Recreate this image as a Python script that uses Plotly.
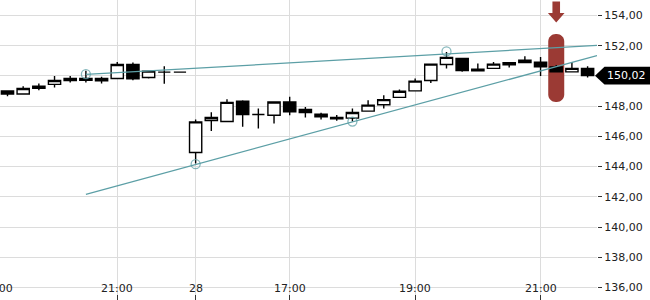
import plotly.graph_objects as go

# ---------------- data ----------------
idx = list(range(38))
opens  = [149.00,148.81,149.32,149.44,149.70,149.83,149.68,149.83,150.76,149.90,
          150.25,150.25,144.93,147.05,146.99,148.33,147.45,147.40,148.28,147.78,
          147.47,147.25,147.21,147.67,148.09,148.58,149.01,149.70,150.76,151.16,
          150.45,150.50,150.87,150.89,150.91,150.60,150.27,150.50]
highs  = [149.06,149.32,149.50,149.99,149.99,150.34,149.94,150.93,150.89,150.32,
          150.65,150.25,147.12,147.60,148.46,148.40,147.85,148.28,148.62,147.95,
          147.56,147.42,147.85,148.40,148.73,149.11,149.83,150.83,151.58,151.16,
          150.83,150.93,150.93,151.31,151.26,150.72,150.93,150.65]
lows   = [148.66,148.81,149.06,149.24,149.57,149.57,149.50,149.83,149.72,149.83,
          149.48,150.25,144.20,146.36,146.99,146.63,146.52,146.85,147.40,147.25,
          147.12,147.03,146.98,147.67,147.85,148.58,149.01,149.54,150.50,150.27,
          150.34,150.50,150.56,150.89,149.99,150.27,150.27,149.90]
closes = [148.81,149.17,149.19,149.70,149.83,149.72,149.83,150.76,149.81,150.32,
          150.25,150.25,146.96,147.25,148.25,147.45,147.45,148.28,147.62,147.58,
          147.29,147.16,147.58,148.07,148.43,148.99,149.66,150.78,151.23,150.36,
          150.34,150.78,150.74,151.05,150.60,150.27,150.50,150.02]

tick_idx = [7, 12, 18, 26, 34]
tick_text = ["21:00", "28", "17:00", "19:00", "21:00"]
prev_tick_idx = -0.65
prev_tick_text = "19:00"

y_ticks = [136, 138, 140, 142, 144, 146, 148, 150, 152, 154]

upper_x = [5, 37.6]
upper_y = [150.10, 152.02]
lower_x = [5, 37.6]
lower_y = [142.17, 151.35]
pivot_x = [5, 12, 22, 28]
pivot_y = [150.12, 144.16, 146.98, 151.62]

signal_idx = 35
signal_top = 152.78
signal_bot = 148.28

# ---------------- layout geometry ----------------
W, H = 650, 300
MR = 53
PW, PH = W - MR, H
xmin, xmax = -0.478, 37.6
ymin, ymax = 135.173, 155.026
sx = PW / (xmax - xmin)
sy = PH / (ymax - ymin)

def X(i):  # index -> px
    return (i - xmin) * sx
def Y(p):  # price -> px
    return (ymax - p) * sy
def I(px):
    return xmin + px / sx
def P(py):
    return ymax - py / sy

def path_from_px(cmds):
    out = []
    for c in cmds:
        if c[0] == 'Z':
            out.append('Z')
            continue
        letter, pts = c[0], c[1:]
        out.append(letter + ' ' + ' '.join(f"{I(px):.5f},{P(py):.5f}" for px, py in pts))
    return ' '.join(out)

red = "#9b3a34"
k = 0.5523

# rounded signal bar
cx = X(signal_idx)
L, R = cx - 8, cx + 8
T, B = Y(signal_top), Y(signal_bot)
r = 7.5
bar_path = path_from_px([
    ('M', (L + r, T)), ('L', (R - r, T)),
    ('C', (R - r + k * r, T), (R, T + r - k * r), (R, T + r)),
    ('L', (R, B - r)),
    ('C', (R, B - r + k * r), (R - r + k * r, B), (R - r, B)),
    ('L', (L + r, B)),
    ('C', (L + r - k * r, B), (L, B - r + k * r), (L, B - r)),
    ('L', (L, T + r)),
    ('C', (L, T + r - k * r), (L + r - k * r, T), (L + r, T)),
    ('Z',)])

# arrow above
arrow_path = path_from_px([
    ('M', (cx - 3.8, 1.5)), ('L', (cx + 3.8, 1.5)), ('L', (cx + 3.8, 13)),
    ('L', (cx + 8.3, 13)), ('L', (cx, 22.5)), ('L', (cx - 8.3, 13)),
    ('L', (cx - 3.8, 13)), ('Z',)])

# last price tag (x in paper, y in data)
last = closes[-1]
yc = Y(last)
def PX(px):
    return px / PW
tag_pts = [(595, yc), (604.5, yc - 8.8), (650, yc - 8.8), (650, yc + 8.8), (604.5, yc + 8.8)]
tag_path = "M " + " L ".join(f"{PX(a):.5f},{P(b):.5f}" for a, b in tag_pts) + " Z"

fig = go.Figure()

fig.add_trace(go.Candlestick(
    x=idx, open=opens, high=highs, low=lows, close=closes,
    increasing=dict(line=dict(color="black", width=1.4), fillcolor="white"),
    decreasing=dict(line=dict(color="black", width=1.4), fillcolor="black"),
    whiskerwidth=0, showlegend=False, hoverinfo="skip"))

teal = "#5c9fa6"
fig.add_trace(go.Scatter(x=upper_x, y=upper_y, mode="lines",
                         line=dict(color=teal, width=1.3), showlegend=False, hoverinfo="skip"))
fig.add_trace(go.Scatter(x=lower_x, y=lower_y, mode="lines",
                         line=dict(color=teal, width=1.3), showlegend=False, hoverinfo="skip"))
fig.add_trace(go.Scatter(x=pivot_x, y=pivot_y, mode="markers",
                         marker=dict(symbol="circle-open", size=9, color="rgba(92,159,166,0.75)",
                                     line=dict(width=1.3)),
                         showlegend=False, hoverinfo="skip"))

fig.add_shape(type="path", path=bar_path, xref="x", yref="y",
              fillcolor=red, line=dict(width=0), layer="between")
fig.add_shape(type="path", path=arrow_path, xref="x", yref="y",
              fillcolor=red, line=dict(width=0), layer="above")
fig.add_shape(type="path", path=tag_path, xref="paper", yref="y",
              fillcolor="black", line=dict(width=0), layer="above")

fig.add_annotation(x=PX(626.5), y=last, xref="paper", yref="y",
                   text=f"{last:.2f}".replace(".", ","), showarrow=False,
                   font=dict(family="DejaVu Sans", size=11, color="white"),
                   xanchor="center", yanchor="middle")

# x tick labels (drawn inside the plot area, above the tick marks)
label_y = 1 - 288 / PH
lab_font = dict(family="DejaVu Sans", size=11, color="#222")
for ti, tt in zip(tick_idx, tick_text):
    fig.add_annotation(x=ti, y=label_y, xref="x", yref="paper", text=tt,
                       showarrow=False, font=lab_font, xanchor="center", yanchor="middle")
fig.add_annotation(x=(prev_tick_idx - xmin) / (xmax - xmin), y=label_y,
                   xref="paper", yref="paper", text=prev_tick_text, showarrow=False,
                   font=lab_font, xanchor="center", yanchor="middle")

fig.update_layout(
    width=W, height=H, margin=dict(l=0, r=MR, t=0, b=0),
    paper_bgcolor="white", plot_bgcolor="white",
    separators=",.", boxgap=0.22, boxgroupgap=0,
    font=dict(family="DejaVu Sans", size=11, color="#222"),
    xaxis=dict(range=[xmin, xmax], tickvals=tick_idx, ticktext=tick_text,
               showticklabels=False,
               showgrid=True, gridcolor="#dcdcdc", gridwidth=1, zeroline=False,
               ticks="inside", ticklen=5, tickcolor="#333",
               rangeslider=dict(visible=False), showline=False, fixedrange=True),
    yaxis=dict(range=[ymin, ymax], side="right", tickvals=y_ticks,
               ticktext=[("" if v == 150 else f"{v:.2f}".replace(".", ",")) for v in y_ticks],
               showgrid=True, gridcolor="#dcdcdc", gridwidth=1, zeroline=False,
               ticks="outside", ticklen=4, tickcolor="#333", showline=False,
               tickfont=dict(family="DejaVu Sans", size=11, color="#222")),
)

fig.write_html("out.html")
